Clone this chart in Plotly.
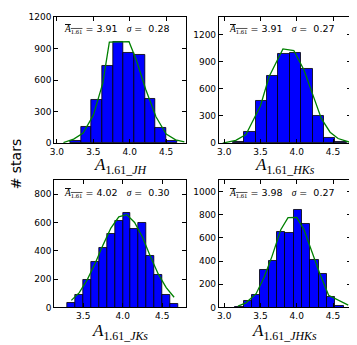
import plotly.graph_objects as go

# ---- data: bin edges, counts, fitted curve ----
jh_edges = [3.18, 3.327, 3.474, 3.621, 3.768, 3.915, 4.062, 4.209, 4.356, 4.503, 4.65]
jh_counts = [25, 150, 410, 735, 965, 860, 835, 420, 140, 25]
jh_fit_x = [3.09, 3.23, 3.36, 3.50, 3.63, 3.72, 3.99, 4.09, 4.22, 4.36, 4.50, 4.63, 4.75]
jh_fit_y = [5, 37, 95, 265, 570, 960, 965, 790, 510, 250, 85, 30, 12]

hks_edges = [3.118, 3.275, 3.432, 3.589, 3.746, 3.903, 4.06, 4.217, 4.374, 4.531, 4.688]
hks_counts = [18, 125, 465, 740, 990, 1005, 820, 300, 60, 10]
hks_fit_x = [2.98, 3.16, 3.30, 3.50, 3.62, 3.81, 3.96, 4.10, 4.22, 4.34, 4.46, 4.57, 4.745]
hks_fit_y = [0, 30, 95, 414, 739, 1045, 1027, 811, 540, 270, 120, 50, 5]

jks_edges = [3.3, 3.4, 3.5, 3.6, 3.7, 3.8, 3.9, 4.0, 4.1, 4.2, 4.3, 4.4, 4.5, 4.6, 4.7]
jks_counts = [34, 91, 195, 322, 417, 519, 612, 664, 555, 596, 362, 227, 86, 23]
jks_fit_x = [3.35, 3.45, 3.55, 3.65, 3.75, 3.85, 3.95, 4.05, 4.15, 4.25, 4.35, 4.45, 4.55, 4.65]
jks_fit_y = [50, 105, 195, 310, 440, 560, 640, 655, 600, 495, 360, 235, 140, 72]

jhks_edges = [3.15, 3.265, 3.38, 3.495, 3.61, 3.725, 3.84, 3.955, 4.07, 4.185, 4.30, 4.415, 4.53, 4.645]
jhks_counts = [8, 55, 110, 325, 405, 650, 645, 840, 720, 410, 290, 90, 18]
jhks_fit_x = [3.19, 3.30, 3.44, 3.55, 3.66, 3.78, 3.88, 4.00, 4.10, 4.21, 4.32, 4.44, 4.55, 4.71]
jhks_fit_y = [11, 40, 119, 260, 443, 670, 774, 777, 670, 472, 288, 105, 68, 20]

means = ["3.91", "3.91", "4.02", "3.98"]
sigmas = ["0.28", "0.27", "0.30", "0.27"]
subs = ["JH", "HKs", "JKs", "JHKs"]

panels = [
    (jh_edges, jh_counts, jh_fit_x, jh_fit_y),
    (hks_edges, hks_counts, hks_fit_x, hks_fit_y),
    (jks_edges, jks_counts, jks_fit_x, jks_fit_y),
    (jhks_edges, jhks_counts, jhks_fit_x, jhks_fit_y),
]

# page is 357x345 but the html body has an 8px margin, so the figure
# sits at (8,8); positions below are page pixels converted to paper coords
OFF = 8
W, H = 357 - OFF, 345 - OFF


def px(x):
    return (x - OFF) / W


def py(y):
    return 1 - (y - OFF) / H


xdoms = [[px(50.7), px(184)], [px(217.3), px(350.7)]] * 2
ydoms = [[py(142), py(12)]] * 2 + [[py(311.5), py(180)]] * 2
xranges = [[2.963, 4.772], [2.927, 4.745], [3.133, 4.80], [2.927, 4.745]]
yranges = [[0, 1201], [0, 1400], [0, 900], [0, 1100]]
ydticks = [300, 300, 200, 200]
xticks = [[3.0, 3.5, 4.0, 4.5], [3.0, 3.5, 4.0, 4.5], [3.5, 4.0, 4.5], [3.0, 3.5, 4.0, 4.5]]
stat_y = [25, 25, 193, 193]
lab_y = [166, 166, 337, 337]

SANS = "DejaVu Sans"
SERIF = "Liberation Serif"

fig = go.Figure()
anns = []
for i, (edges, counts, fx, fy) in enumerate(panels):
    n = "" if i == 0 else str(i + 1)
    centers = [(edges[k] + edges[k + 1]) / 2 for k in range(len(counts))]
    widths = [edges[k + 1] - edges[k] for k in range(len(counts))]
    fig.add_trace(go.Bar(x=centers, y=counts, width=widths,
                         marker=dict(color="#0000ff", line=dict(color="black", width=0.8)),
                         xaxis="x" + n, yaxis="y" + n, showlegend=False))
    fig.add_trace(go.Scatter(x=fx, y=fy, mode="lines", line=dict(color="#008000", width=1.3),
                             xaxis="x" + n, yaxis="y" + n, showlegend=False))
    ax = dict(showline=True, linecolor="black", linewidth=1, mirror="allticks",
              ticks="inside", ticklen=4, tickcolor="black", showgrid=False, zeroline=False,
              ticklabeloverflow="allow",
              tickfont=dict(family=SANS, size=9, color="black"))
    fig.update_layout(**{
        "xaxis" + n: dict(ax, domain=xdoms[i], range=xranges[i], tickvals=xticks[i],
                          ticktext=["%.1f" % t for t in xticks[i]],
                          anchor="y" + n),
        "yaxis" + n: dict(ax, domain=ydoms[i], range=yranges[i], dtick=ydticks[i], tick0=0,
                          anchor="x" + n),
    })
    x0 = xdoms[i][0]
    x1 = xdoms[i][1]
    # stats text inside panel
    anns.append(dict(
        xref="paper", yref="paper", x=x0 + 8 / W, y=py(stat_y[i]), xanchor="left", yanchor="middle",
        showarrow=False, font=dict(family=SANS, size=9.5, color="black"),
        text=('<span style="font-family:%s;text-decoration:overline"><i>A</i><sub>1.61</sub></span>'
              ' = %s\u00a0\u00a0\u00a0<span style="font-family:%s"><i>σ</i></span> =\u00a0\u00a0%s')
             % (SERIF, means[i], SERIF, sigmas[i])))
    # x-axis label
    anns.append(dict(
        xref="paper", yref="paper", x=(x0 + x1) / 2, y=py(lab_y[i]), xanchor="center", yanchor="middle",
        showarrow=False, font=dict(family=SERIF, size=17, color="black"),
        text="<i>A</i><sub>1.61_<i>%s</i></sub>" % subs[i]))

anns.append(dict(xref="paper", yref="paper", x=px(12), y=py(163), xanchor="center", yanchor="middle",
                 showarrow=False, textangle=-90, font=dict(family=SANS, size=14, color="black"),
                 text="# stars"))

fig.update_layout(width=W, height=H, margin=dict(l=0, r=0, t=0, b=0),
                  paper_bgcolor="white", plot_bgcolor="white", bargap=0,
                  annotations=anns)
fig.write_html("out.html")
